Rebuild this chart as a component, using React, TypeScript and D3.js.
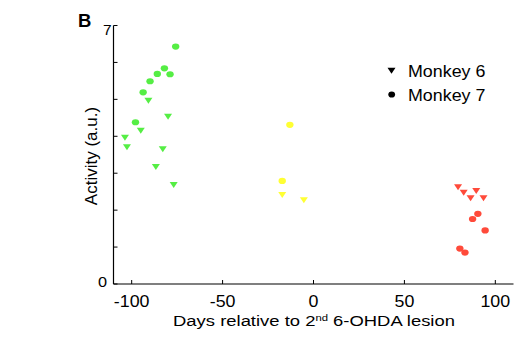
import React from "react";
import * as d3 from "d3";

const W = 532;
const H = 348;

// [day, activity]
const monkey6Early: [number, number][] = [
  [-90.8, 4.96], [-80.0, 4.53], [-103.7, 3.96], [-95.0, 4.15],
  [-102.6, 3.7], [-82.9, 3.65], [-86.7, 3.17], [-76.9, 2.68],
];
const monkey7Early: [number, number][] = [
  [-75.8, 6.43], [-82.0, 5.84], [-85.9, 5.69], [-78.9, 5.68],
  [-89.9, 5.49], [-93.7, 5.19], [-97.9, 4.38],
];
const monkey6Mid: [number, number][] = [[-17.2, 2.41], [-5.3, 2.27]];
const monkey7Mid: [number, number][] = [[-13.0, 4.31], [-17.2, 2.79]];
const monkey6Late: [number, number][] = [
  [79.5, 2.62], [82.6, 2.47], [89.5, 2.52], [86.4, 2.32], [93.5, 2.32],
];
const monkey7Late: [number, number][] = [
  [90.4, 1.9], [87.5, 1.76], [94.4, 1.45], [80.5, 0.96], [83.3, 0.85],
];

const xTicks = [-100, -50, 0, 50, 100];
const yTicks = [0, 1, 2, 3, 4, 5, 6, 7];
const yTickLabels = ["0", "7"];
const legendLabels = ["Monkey 6", "Monkey 7"];

const GREEN = "#55ee44";
const YELLOW = "#ffff33";
const RED = "#ff4a3a";

const x = d3.scaleLinear().domain([-110, 110]).range([113.5, 513.5]);
const y = d3.scaleLinear().domain([0, 7]).range([284, 25.5]);

const tri = (cx: number, cy: number, w = 8, h = 6) => {
  const p = d3.path();
  p.moveTo(cx - w / 2, cy - h / 2);
  p.lineTo(cx + w / 2, cy - h / 2);
  p.lineTo(cx, cy + h / 2);
  p.closePath();
  return p.toString();
};

const FONT = "'Liberation Sans', Arial, sans-serif";

const SText = (props: {
  x: number; y: number; sx?: number; size: number; anchor?: string; weight?: string; children: React.ReactNode;
}) => (
  <text
    transform={`translate(${props.x},${props.y}) scale(${props.sx ?? 1},1)`}
    fontSize={props.size}
    textAnchor={props.anchor ?? "start"}
    fontWeight={props.weight ?? "normal"}
    fontFamily={FONT}
    fill="#000"
  >
    {props.children}
  </text>
);

export default function App() {
  const groups = [
    { tri: monkey6Early, circ: monkey7Early, color: GREEN },
    { tri: monkey6Mid, circ: monkey7Mid, color: YELLOW },
    { tri: monkey6Late, circ: monkey7Late, color: RED },
  ];
  const [x0, x1] = x.range();
  const [y0, y1] = y.range();
  return (
    <svg width={W} height={H} style={{ position: "absolute", left: 0, top: 0, background: "#fff" }}>
      {/* axes */}
      <line x1={x0} x2={x0} y1={y1} y2={y0} stroke="#000" strokeWidth={1.2} />
      <line x1={x0} x2={x1} y1={y0} y2={y0} stroke="#000" strokeWidth={1.2} />
      {yTicks.map((t) => (
        <line key={"yt" + t} x1={x0} x2={x0 + 4} y1={y(t)} y2={y(t)} stroke="#000" strokeWidth={1} />
      ))}
      {xTicks.map((t) => (
        <line key={"xt" + t} x1={x(t)} x2={x(t)} y1={y0} y2={y0 - 4} stroke="#000" strokeWidth={1} />
      ))}
      {xTicks.map((t) => (
        <SText key={"xl" + t} x={x(t)} y={307} size={16.5} sx={1.08} anchor="middle">
          {t < 0 ? "-" + Math.abs(t) : String(t)}
        </SText>
      ))}
      <SText x={107} y={y(0) + 3} size={15.5} sx={1.05} anchor="end">{yTickLabels[0]}</SText>
      <SText x={111.5} y={y(7) + 9} size={15.5} anchor="end">{yTickLabels[1]}</SText>

      {/* titles */}
      <SText x={314} y={326} size={15.5} sx={1.19} anchor="middle">
        Days relative to 2<tspan fontSize={9.5} dy={-5}>nd</tspan>
        <tspan dy={5}> 6-OHDA lesion</tspan>
      </SText>
      <text
        transform={`translate(97,156) rotate(-90)`}
        fontSize={17}
        textAnchor="middle"
        fontFamily={FONT}
      >
        Activity (a.u.)
      </text>
      <SText x={78} y={26.5} size={18.5} weight="bold">B</SText>

      {/* data */}
      {groups.map((g, gi) => (
        <g key={gi}>
          {g.tri.map(([d, v], i) => (
            <path key={"t" + i} d={tri(x(d), y(v))} fill={g.color} />
          ))}
          {g.circ.map(([d, v], i) => (
            <ellipse key={"c" + i} cx={x(d)} cy={y(v)} rx={3.7} ry={3.1} fill={g.color} />
          ))}
        </g>
      ))}

      {/* legend */}
      <path d={tri(391.5, 70.7, 8, 6)} fill="#000" />
      <ellipse cx={391.7} cy={94.5} rx={3.4} ry={3.1} fill="#000" />
      <SText x={408} y={76.5} size={17} sx={1.05}>{legendLabels[0]}</SText>
      <SText x={408} y={101} size={17} sx={1.05}>{legendLabels[1]}</SText>
    </svg>
  );
}
